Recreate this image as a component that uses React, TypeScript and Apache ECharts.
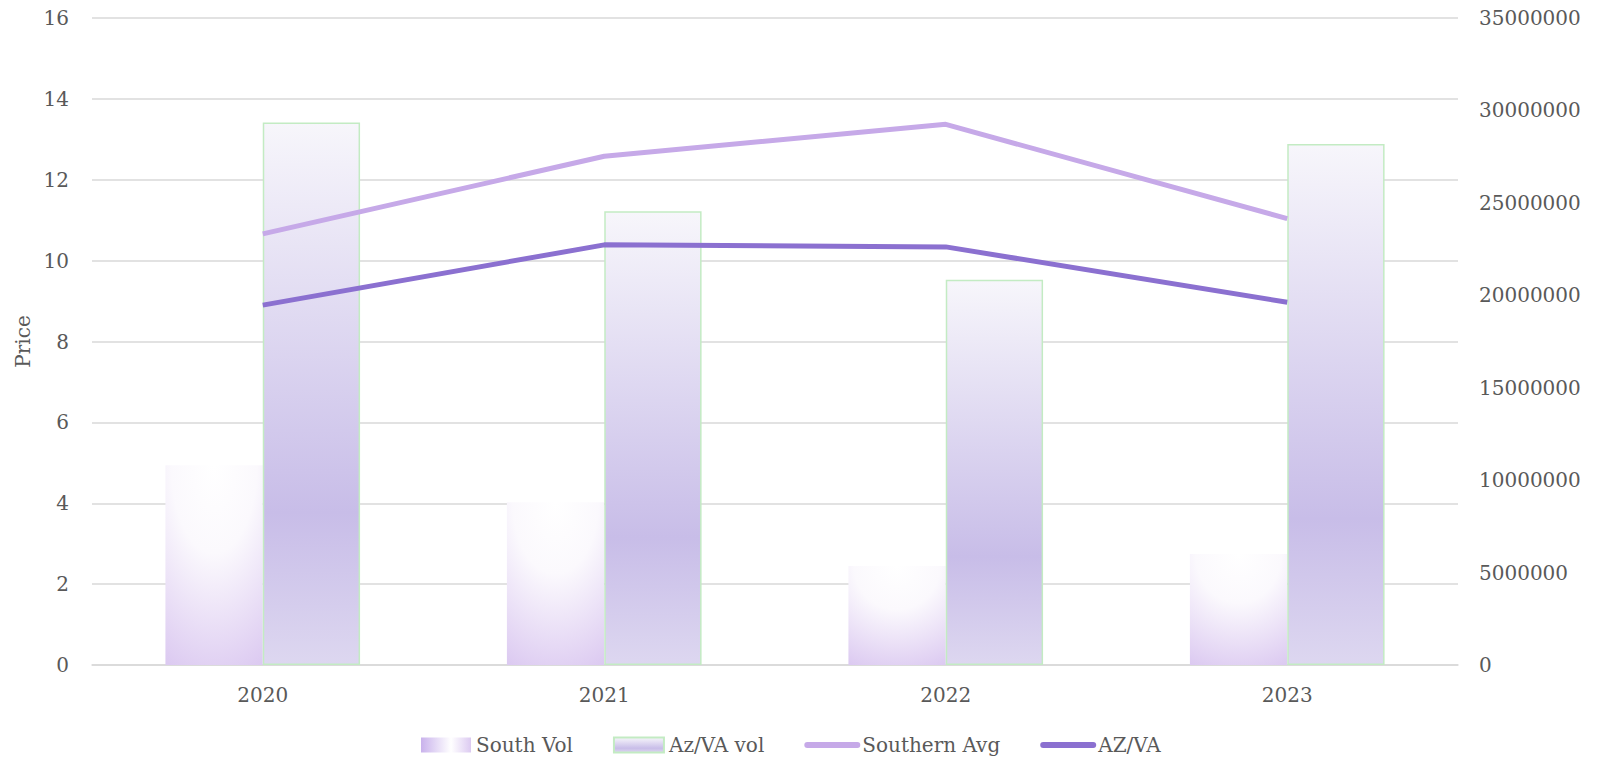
import React, { useEffect, useRef } from "react";
import * as echarts from "echarts";

const years = ["2020", "2021", "2022", "2023"];
const southVol = [10800000, 8800000, 5350000, 6000000];
const azVaVol = [29350000, 24540000, 20840000, 28190000];
const southernAvg = [10.66, 12.58, 13.37, 11.04];
const azVa = [8.9, 10.39, 10.34, 8.97];

const FONT = "DejaVu Serif";
const TEXT = "#595959";
const GRID = "#d9d9d9";
const LIGHT = "#c6a9e8";
const DARK = "#8b70d0";

export default function App() {
  const ref = useRef<HTMLDivElement>(null);
  useEffect(() => {
    document.body.style.margin = "0";
    const chart = echarts.init(ref.current!, null, { renderer: "svg" });
    const southFill = new echarts.graphic.RadialGradient(0.5, 0, 1.1, [
      { offset: 0, color: "#ffffff" },
      { offset: 0.4, color: "#fbf9fd" },
      { offset: 1, color: "#dccaf1" },
    ]);
    const azFill = new echarts.graphic.LinearGradient(0, 0, 0, 1, [
      { offset: 0, color: "#f7f6fb" },
      { offset: 0.72, color: "#c8bde8" },
      { offset: 1, color: "#ddd7f0" },
    ]);
    chart.setOption({
      animation: false,
      textStyle: { fontFamily: FONT, color: TEXT },
      grid: { left: 92, right: 145, top: 18, bottom: 100 },
      legend: {
        bottom: 5,
        left: 416,
        itemWidth: 50,
        itemHeight: 15,
        itemGap: 40,
        textStyle: { fontFamily: FONT, fontSize: 20, color: TEXT },
        data: [
          {
            name: "South Vol",
            icon: "rect",
            itemStyle: {
              color: new echarts.graphic.LinearGradient(0, 0, 1, 0, [
                { offset: 0, color: "#c9b2ec" },
                { offset: 0.6, color: "#ffffff" },
                { offset: 1, color: "#dccaf1" },
              ]),
            },
          },
          { name: "Az/VA vol", icon: "rect" },
          {
            name: "Southern Avg",
            itemStyle: { opacity: 0 },
            lineStyle: { color: LIGHT, width: 6, cap: "round" },
          },
          {
            name: "AZ/VA",
            itemStyle: { opacity: 0 },
            lineStyle: { color: DARK, width: 6, cap: "round" },
          },
        ],
      },
      xAxis: {
        type: "category",
        data: years,
        axisTick: { show: false },
        axisLine: { lineStyle: { color: GRID, width: 1.5 } },
        axisLabel: { fontFamily: FONT, fontSize: 20, color: TEXT, margin: 20 },
      },
      yAxis: [
        {
          type: "value",
          min: 0,
          max: 16,
          interval: 2,
          name: "Price",
          nameLocation: "middle",
          nameGap: 58,
          nameTextStyle: { fontFamily: FONT, fontSize: 20, color: TEXT },
          axisLabel: { fontFamily: FONT, fontSize: 20, color: TEXT, margin: 23 },
          splitLine: { lineStyle: { color: GRID, width: 1.5 } },
        },
        {
          type: "value",
          min: 0,
          max: 35000000,
          interval: 5000000,
          axisLabel: {
            fontFamily: FONT,
            fontSize: 20,
            color: TEXT,
            margin: 21,
            formatter: (v: number) => String(v),
          },
          splitLine: { show: false },
        },
      ],
      series: [
        {
          name: "South Vol",
          type: "bar",
          yAxisIndex: 1,
          data: southVol,
          barGap: "0%",
          barCategoryGap: "43%",
          itemStyle: { color: southFill },
        },
        {
          name: "Az/VA vol",
          type: "bar",
          yAxisIndex: 1,
          data: azVaVol,
          itemStyle: { color: azFill, borderColor: "#c3ebc3", borderWidth: 1.5 },
        },
        {
          name: "Southern Avg",
          type: "line",
          yAxisIndex: 0,
          data: southernAvg,
          symbol: "none",
          color: LIGHT,
          lineStyle: { color: LIGHT, width: 5 },
        },
        {
          name: "AZ/VA",
          type: "line",
          yAxisIndex: 0,
          data: azVa,
          symbol: "none",
          color: DARK,
          lineStyle: { color: DARK, width: 5 },
        },
      ],
    });
    return () => chart.dispose();
  }, []);
  return <div ref={ref} style={{ width: 1603, height: 765 }} />;
}
